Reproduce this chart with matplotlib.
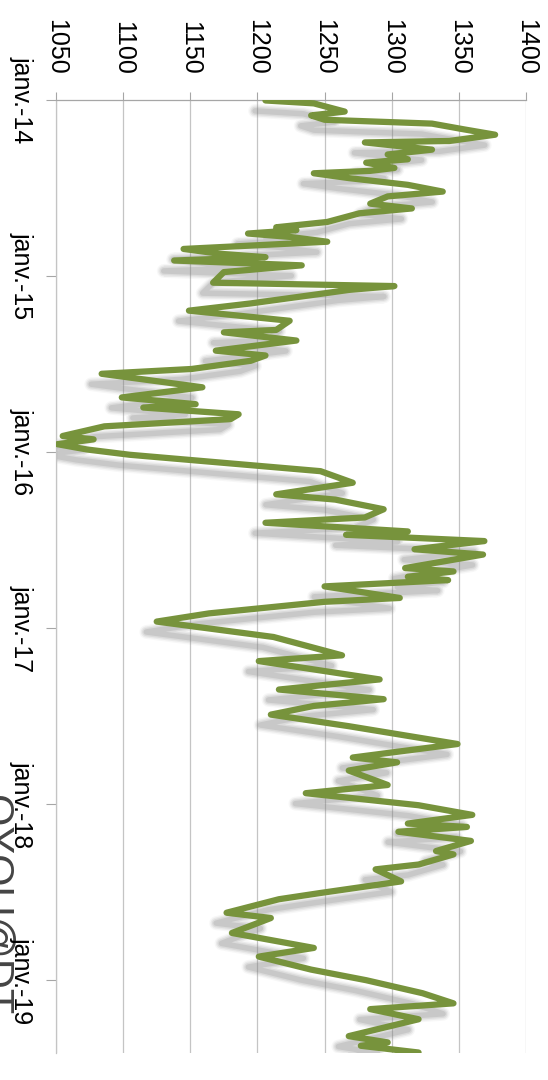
import matplotlib
matplotlib.use("Agg")
import matplotlib.pyplot as plt
import matplotlib.transforms as mtransforms
import pandas as pd

# cours de l'or (USD/oz)
dates = [
    "2014-01-02", "2014-01-08", "2014-01-25", "2014-02-02", "2014-02-11", "2014-02-19",
    "2014-03-03", "2014-03-14", "2014-03-27", "2014-03-30", "2014-04-14", "2014-04-24",
    "2014-05-04", "2014-05-11", "2014-05-22", "2014-05-28", "2014-06-02", "2014-06-12",
    "2014-06-26", "2014-07-10", "2014-07-20", "2014-08-04", "2014-08-14", "2014-08-24",
    "2014-09-11", "2014-09-22", "2014-09-28", "2014-10-05", "2014-10-12", "2014-10-22",
    "2014-11-06", "2014-11-16", "2014-11-23", "2014-11-30", "2014-12-10", "2014-12-24",
    "2015-01-15", "2015-01-22", "2015-01-30", "2015-02-06", "2015-02-27", "2015-03-14",
    "2015-04-04", "2015-04-23", "2015-04-28", "2015-05-15", "2015-06-05", "2015-06-15",
    "2015-06-26", "2015-07-13", "2015-07-23", "2015-08-20", "2015-09-10", "2015-09-24",
    "2015-10-01", "2015-10-15", "2015-10-25", "2015-11-09", "2015-11-29", "2015-12-06",
    "2015-12-16", "2015-12-27", "2016-01-07", "2016-02-10", "2016-03-05", "2016-03-29",
    "2016-04-09", "2016-04-29", "2016-05-16", "2016-05-27", "2016-06-14", "2016-06-21",
    "2016-07-04", "2016-07-21", "2016-08-01", "2016-08-29", "2016-09-05", "2016-09-16",
    "2016-09-23", "2016-10-06", "2016-10-30", "2016-11-07", "2016-12-01", "2016-12-18",
    "2017-01-19", "2017-02-26", "2017-03-10", "2017-04-17", "2017-05-08", "2017-05-28",
    "2017-06-11", "2017-06-29", "2017-07-23", "2017-08-29", "2017-09-26", "2017-10-06",
    "2017-10-23", "2017-11-22", "2017-12-09", "2018-01-03", "2018-01-23", "2018-02-10",
    "2018-02-17", "2018-02-27", "2018-03-18", "2018-04-08", "2018-04-15", "2018-05-06",
    "2018-05-16", "2018-06-10", "2018-07-04", "2018-07-17", "2018-08-14", "2018-08-25",
    "2018-09-25", "2018-10-26", "2018-11-13", "2018-12-10", "2019-01-01", "2019-01-28",
    "2019-02-18", "2019-03-02", "2019-03-23", "2019-04-27", "2019-05-10", "2019-05-17",
    "2019-05-31",
]
prix = [
    1206, 1242, 1265, 1240, 1250, 1330,
    1354, 1377, 1343, 1280, 1330, 1297,
    1312, 1281, 1302, 1284, 1242, 1268,
    1312, 1338, 1297, 1284, 1315, 1276,
    1252, 1214, 1229, 1193, 1224, 1252,
    1145, 1172, 1206, 1138, 1233, 1175,
    1167, 1302, 1268, 1250, 1195, 1149,
    1224, 1214, 1175, 1229, 1169, 1206,
    1195, 1151, 1084, 1159, 1099, 1154,
    1115, 1186, 1180, 1086, 1055, 1078,
    1051, 1073, 1105, 1247, 1271, 1214,
    1258, 1294, 1280, 1206, 1312, 1266,
    1369, 1317, 1368, 1310, 1346, 1312,
    1342, 1250, 1306, 1250, 1164, 1125,
    1212, 1263, 1201, 1291, 1216, 1294,
    1242, 1210, 1268, 1349, 1271, 1304,
    1268, 1297, 1236, 1320, 1360, 1312,
    1356, 1305, 1359, 1333, 1346, 1320,
    1288, 1307, 1247, 1216, 1177, 1210,
    1181, 1242, 1201, 1240, 1281, 1323,
    1346, 1284, 1320, 1268, 1297, 1277,
    1320,
]
ticks_valeur = [1050, 1100, 1150, 1200, 1250, 1300, 1350, 1400]
ticks_date = ["2014-01-01", "2015-01-01", "2016-01-01", "2017-01-01", "2018-01-01", "2019-01-01"]
labels_date = ["janv.-14", "janv.-15", "janv.-16", "janv.-17", "janv.-18", "janv.-19"]

d = pd.to_datetime(dates)

plt.rcParams['font.family'] = ['Liberation Sans', 'DejaVu Sans']

fig = plt.figure(figsize=(5.48, 10.8), dpi=100)
ax = fig.add_axes([56 / 548, 1 - 1053 / 1080, (526 - 56) / 548, (1053 - 100) / 1080])

# ombre floue (plusieurs passes grises décalées)
ombre = mtransforms.offset_copy(ax.transData, fig=fig, x=-7.5, y=-7.5, units='points')
for lw, a in [(10, 0.06), (8, 0.1), (6, 0.14), (4, 0.2)]:
    ax.plot(prix, d, color='#808080', lw=lw, alpha=a, transform=ombre,
            solid_capstyle='round', solid_joinstyle='round', zorder=2)

ax.plot(prix, d, color='#77933C', lw=4.5, solid_capstyle='round',
        solid_joinstyle='round', zorder=3)

ax.set_xlim(1050, 1400)
ax.set_ylim(pd.Timestamp("2019-06-01"), pd.Timestamp("2014-01-01"))

ax.xaxis.tick_top()
ax.set_xticks(ticks_valeur)
ax.set_xticklabels([str(v) for v in ticks_valeur], rotation=-90, fontsize=18)
ax.set_yticks(pd.to_datetime(ticks_date))
ax.set_yticklabels(labels_date, rotation=-90, fontsize=18, va='center')

ax.tick_params(axis='x', length=6, width=0.8, color='#a6a6a6', pad=12)
ax.tick_params(axis='y', length=7, width=0.8, color='#a6a6a6', pad=9)
ax.grid(axis='x', color='#c4c4c4', lw=0.9)
ax.set_axisbelow(True)

for s in ['right', 'bottom']:
    ax.spines[s].set_visible(False)
ax.spines['top'].set_color('#a6a6a6')
ax.spines['left'].set_color('#c4c4c4')
ax.spines['top'].set_linewidth(0.9)
ax.spines['left'].set_linewidth(0.9)

# filigrane coupé au bord gauche
fig.text(-18 / 548, 1 - 795 / 1080, "OYOU@DT", rotation=-90, rotation_mode='anchor',
         ha='left', va='baseline', fontsize=30, color='#444444', zorder=-1)

fig.savefig("out.png", dpi=100)
